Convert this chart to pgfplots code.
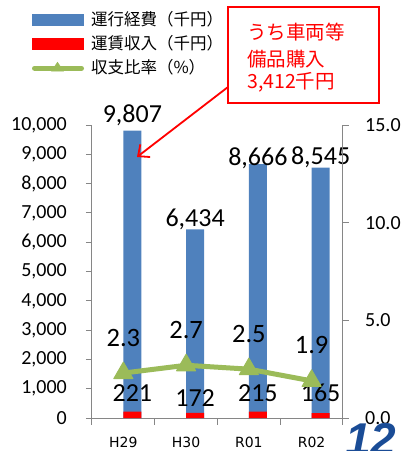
\documentclass[border=0pt]{standalone}
\usepackage{pgfplots}
\pgfplotsset{compat=1.18}
\usepackage{pgfplotstable}
\usepackage{fontspec}
\setmainfont{Carlito}
\newfontfamily\jp{Noto Sans CJK JP}
\newfontfamily\dejavu{DejaVu Sans}
\newfontfamily\lib{Liberation Sans}
\usetikzlibrary{arrows.meta}
\definecolor{barblue}{HTML}{4F81BD}
\definecolor{barred}{HTML}{FF0000}
\definecolor{linegreen}{HTML}{9BBB59}
\definecolor{axisgray}{HTML}{868686}
\definecolor{pageblue}{HTML}{1A4C96}

\pgfplotstableread{
x y dy
0 9807 8
1 6434 3.3
2 8666 -1.7
3 8545 3.6
}\costs
\pgfplotstableread{
x y dy
0 221 9.8
1 172 6.3
2 215 10
3 165 11.5
}\fares
\pgfplotstableread{
x y
0 2.3
1 2.7
2 2.5
3 1.9
}\ratio

\begin{document}
\begin{tikzpicture}
\useasboundingbox (0pt,0pt) rectangle (400pt,451pt);
\clip (0pt,0pt) rectangle (400pt,451pt);
\begin{axis}[
  at={(92pt,33pt)}, anchor=south west,
  width=251pt, height=293pt, scale only axis,
  xmin=-0.5, xmax=3.5, ymin=0, ymax=10000,
  axis x line*=bottom, axis y line*=left,
  axis line style={-, draw=axisgray, line width=1pt},
  ytick={0,1000,...,10000},
  xtick={0,1,2,3}, xticklabels={H29,H30,R01,R02},
  minor xtick={-0.5,0.5,1.5,2.5,3.5},
  tick align=outside, major tick length=6pt, minor tick length=7pt,
  tick style={draw=axisgray, line width=1pt},
  major x tick style={draw=none},
  scaled y ticks=false,
  /pgf/number format/1000 sep={,},
  /pgf/number format/assume math mode=true,
  yticklabel style={font=\fontsize{20}{20}\selectfont, inner sep=0pt, anchor=east, xshift=-19pt},
  xticklabel style={font=\dejavu\fontsize{14}{14}\selectfont, inner sep=0pt, anchor=center, yshift=-18pt},
  ybar=0pt, bar width=18pt,
  clip=false,
  legend style={at={(rel axis cs:-0.239,1.386)}, anchor=north west, draw=none, fill=none,
    inner sep=0pt, outer sep=0pt, font=\jp\fontsize{16.5}{16.5}\selectfont,
    row sep=7.5pt, column sep=7pt,
    nodes={inner sep=0pt, text height=13.5pt, text depth=3pt}},
  legend cell align=left,
]
\addplot[fill=barblue, draw=none, forget plot,
  nodes near coords,
  visualization depends on={\thisrow{dy}\as\dy},
  every node near coord/.append style={font=\fontsize{26}{26}\selectfont, anchor=base, inner sep=0pt, yshift=\dy pt, text=black}]
  table[x=x,y=y] {\costs};
\addplot[fill=barred, draw=none, forget plot,
  nodes near coords,
  visualization depends on={\thisrow{dy}\as\dy},
  every node near coord/.append style={font=\fontsize{26}{26}\selectfont, anchor=base, inner sep=0pt, yshift=\dy pt, text=black}]
  table[x=x,y=y] {\fares};
\addlegendimage{legend image code/.code={\fill[barblue] (0pt,-5.5pt) rectangle (51pt,5.5pt);}}
\addlegendentry{運行経費（千円）}
\addlegendimage{legend image code/.code={\fill[barred] (0pt,-5.5pt) rectangle (51pt,5.5pt);}}
\addlegendentry{運賃収入（千円）}
\addlegendimage{legend image code/.code={\draw[linegreen, line width=5pt, line cap=round] (2pt,0pt) -- (49pt,0pt); \fill[linegreen] (19pt,-3pt) -- (31pt,-3pt) -- (25pt,6pt) -- cycle;}}
\addlegendentry{収支比率（\%）}
\end{axis}
\begin{axis}[
  at={(92pt,33pt)}, anchor=south west,
  width=251pt, height=293pt, scale only axis,
  xmin=-0.5, xmax=3.5, ymin=0, ymax=15,
  axis y line*=right, axis x line=none,
  axis line style={-, draw=axisgray, line width=1pt},
  ytick={0,5,10,15},
  tick align=outside, major tick length=6pt,
  tick style={draw=axisgray, line width=1pt},
  /pgf/number format/assume math mode=true,
  yticklabel style={font=\fontsize{20}{20}\selectfont, inner sep=0pt, anchor=west, xshift=16pt,
    /pgf/number format/fixed, /pgf/number format/fixed zerofill, /pgf/number format/precision=1},
  clip=false,
]
\addplot[linegreen, line width=5pt, line join=round, mark=triangle*, mark size=11pt,
  mark options={fill=linegreen, draw=linegreen, line width=1pt},
  nodes near coords,
  every node near coord/.append style={font=\fontsize{26.5}{26.5}\selectfont, anchor=base, inner sep=0pt, yshift=27pt, text=black,
    /pgf/number format/fixed, /pgf/number format/fixed zerofill, /pgf/number format/precision=1}]
  table[x=x,y=y] {\ratio};
\end{axis}
\draw[red, line width=1.3pt] (228pt,348pt) rectangle (379pt,444pt);
\node[anchor=west, inner sep=0pt, text=red, font=\jp\fontsize{19.5}{19.5}\selectfont] at (247pt,418.5pt) {うち車両等};
\node[anchor=west, inner sep=0pt, text=red, font=\jp\fontsize{19.5}{19.5}\selectfont] at (247pt,392pt) {備品購入};
\node[anchor=west, inner sep=0pt, text=red, font=\jp\fontsize{19.5}{19.5}\selectfont] at (247pt,368.5pt) {3,412千円};
\draw[red, line width=1.8pt, -{Straight Barb[length=9pt,width=16pt]}] (228pt,364pt) -- (137pt,294pt);
\node[anchor=base west, inner sep=0pt, text=pageblue, font=\lib\bfseries\itshape\fontsize{46}{46}\selectfont] at (345pt,-5pt) {12};
\end{tikzpicture}
\end{document}
